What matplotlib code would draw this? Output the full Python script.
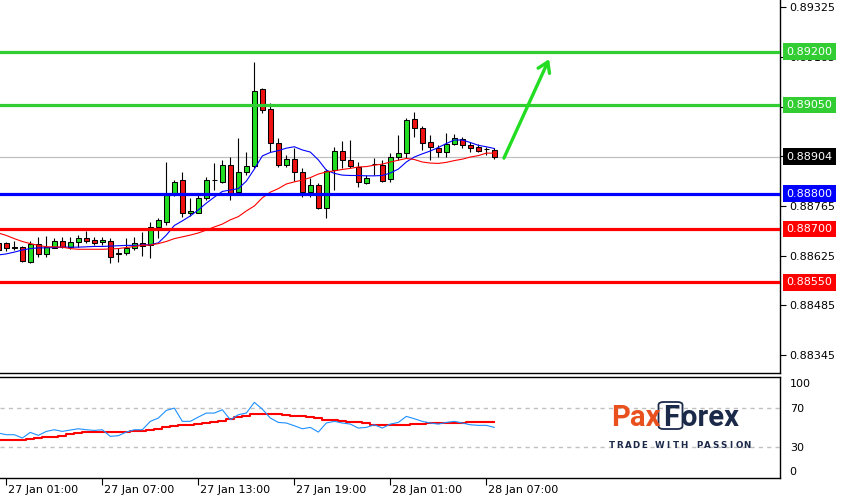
import numpy as np
import pandas as pd
import matplotlib
matplotlib.use('Agg')
import matplotlib.pyplot as plt
import matplotlib.transforms as mtransforms
from matplotlib.patches import FancyBboxPatch

# 30-minute candles, first one is half cut at the left edge
opens = [0.88662, 0.88660, 0.88648, 0.88649, 0.88608, 0.88657, 0.88629, 0.88647, 0.88667, 0.88650,
         0.88664, 0.88674, 0.88668, 0.88663, 0.88667, 0.88631, 0.88632, 0.88646, 0.88660, 0.88655,
         0.88707, 0.88721, 0.88801, 0.88838, 0.88744, 0.88746, 0.88787, 0.88838, 0.88833, 0.88881,
         0.88805, 0.88862, 0.88878, 0.89094, 0.89038, 0.88942, 0.88881, 0.88897, 0.88860, 0.88805,
         0.88824, 0.88759, 0.88866, 0.88921, 0.88894, 0.88876, 0.88829, 0.88882, 0.88881, 0.88841,
         0.88902, 0.88914, 0.89009, 0.88984, 0.88945, 0.88928, 0.88916, 0.88940, 0.88953, 0.88937,
         0.88931, 0.88925, 0.88923]
highs = [0.88669, 0.88664, 0.88667, 0.88652, 0.88667, 0.88678, 0.88680, 0.88674, 0.88678, 0.88678,
         0.88683, 0.88695, 0.88678, 0.88678, 0.88674, 0.88646, 0.88674, 0.88678, 0.88693, 0.88721,
         0.88730, 0.88888, 0.88838, 0.88862, 0.88787, 0.88801, 0.88848, 0.88885, 0.88895, 0.88903,
         0.88956, 0.88917, 0.89172, 0.89098, 0.89056, 0.88956, 0.88909, 0.88929, 0.88871, 0.88845,
         0.88829, 0.88868, 0.88932, 0.88948, 0.88951, 0.88890, 0.88852, 0.88899, 0.88895, 0.88914,
         0.88965, 0.89012, 0.89031, 0.88991, 0.88965, 0.88937, 0.88970, 0.88967, 0.88959, 0.88946,
         0.88939, 0.88932, 0.88929]
lows = [0.88635, 0.88639, 0.88641, 0.88608, 0.88605, 0.88622, 0.88622, 0.88646, 0.88646, 0.88643,
        0.88650, 0.88660, 0.88655, 0.88655, 0.88605, 0.88608, 0.88627, 0.88641, 0.88625, 0.88618,
        0.88674, 0.88711, 0.88793, 0.88735, 0.88737, 0.88744, 0.88782, 0.88810, 0.88829, 0.88782,
        0.88796, 0.88852, 0.88871, 0.89026, 0.88918, 0.88876, 0.88874, 0.88835, 0.88791, 0.88791,
        0.88757, 0.88730, 0.88810, 0.88871, 0.88871, 0.88819, 0.88827, 0.88852, 0.88833, 0.88832,
        0.88895, 0.88899, 0.88960, 0.88923, 0.88895, 0.88904, 0.88902, 0.88937, 0.88929, 0.88918,
        0.88918, 0.88909, 0.88897]
closes = [0.88641, 0.88647, 0.88649, 0.88611, 0.88657, 0.88629, 0.88650, 0.88667, 0.88649, 0.88663,
          0.88674, 0.88667, 0.88662, 0.88668, 0.88620, 0.88632, 0.88647, 0.88660, 0.88652, 0.88707,
          0.88726, 0.88796, 0.88833, 0.88744, 0.88751, 0.88787, 0.88838, 0.88839, 0.88881, 0.88801,
          0.88860, 0.88878, 0.89089, 0.89036, 0.88942, 0.88881, 0.88897, 0.88860, 0.88805, 0.88824,
          0.88759, 0.88864, 0.88921, 0.88895, 0.88878, 0.88832, 0.88843, 0.88883, 0.88835, 0.88902,
          0.88914, 0.89007, 0.88984, 0.88942, 0.88930, 0.88916, 0.88940, 0.88956, 0.88937, 0.88929,
          0.88921, 0.88926, 0.88904]

# moving averages on the price chart
ma_fast = [0.88627, 0.88630, 0.88635, 0.88641, 0.88645, 0.88647, 0.88647, 0.88648, 0.88649, 0.88649,
           0.88649, 0.88650, 0.88651, 0.88651, 0.88652, 0.88653, 0.88654, 0.88654, 0.88655, 0.88656,
           0.88661, 0.88683, 0.88710, 0.88723, 0.88737, 0.88754, 0.88773, 0.88790, 0.88806, 0.88810,
           0.88814, 0.88835, 0.88869, 0.88906, 0.88916, 0.88921, 0.88928, 0.88932, 0.88923, 0.88917,
           0.88895, 0.88866, 0.88857, 0.88852, 0.88851, 0.88851, 0.88850, 0.88850, 0.88851, 0.88858,
           0.88869, 0.88889, 0.88903, 0.88912, 0.88920, 0.88930, 0.88941, 0.88951, 0.88951, 0.88944,
           0.88936, 0.88932, 0.88927]
ma_slow = [0.88689, 0.88682, 0.88673, 0.88665, 0.88659, 0.88654, 0.88650, 0.88650, 0.88649, 0.88645,
           0.88643, 0.88643, 0.88643, 0.88643, 0.88644, 0.88645, 0.88648, 0.88651, 0.88654, 0.88655,
           0.88659, 0.88665, 0.88673, 0.88678, 0.88683, 0.88689, 0.88697, 0.88706, 0.88714, 0.88726,
           0.88735, 0.88751, 0.88765, 0.88788, 0.88804, 0.88814, 0.88827, 0.88833, 0.88838, 0.88845,
           0.88855, 0.88861, 0.88864, 0.88868, 0.88871, 0.88875, 0.88876, 0.88880, 0.88883, 0.88889,
           0.88894, 0.88899, 0.88896, 0.88889, 0.88886, 0.88885, 0.88888, 0.88893, 0.88897, 0.88903,
           0.88907, 0.88914, 0.88914]

# oscillator panel
osc_main = [44.7, 43.0, 43.0, 39.6, 45.4, 42.3, 46.4, 48.1, 46.4, 47.8, 49.1, 48.1, 47.4, 48.1, 41.3,
            42.0, 45.7, 48.1, 48.1, 56.7, 60.1, 67.9, 70.3, 56.7, 56.7, 61.1, 65.2, 65.2, 68.6, 58.4,
            63.5, 65.2, 76.2, 69.3, 60.1, 55.6, 55.0, 52.2, 49.1, 50.5, 45.7, 55.0, 56.7, 55.0, 53.9,
            49.8, 50.5, 53.2, 49.8, 53.9, 55.6, 61.8, 59.4, 56.7, 55.0, 53.9, 55.6, 56.7, 55.0, 53.2,
            52.6, 52.6, 50.5]
osc_signal = [37.2, 37.5, 37.9, 37.2, 38.5, 39.2, 40.3, 40.6, 41.3, 43.3, 44.7, 45.4, 45.4, 45.4, 45.4,
              45.7, 46.1, 46.4, 46.8, 47.4, 48.8, 50.5, 51.5, 52.6, 52.6, 53.6, 54.6, 56.0, 57.3, 59.4,
              60.8, 62.1, 63.8, 63.8, 63.8, 63.8, 63.2, 62.1, 61.8, 61.1, 59.7, 58.4, 57.7, 57.0, 56.3,
              55.6, 54.6, 53.2, 52.6, 52.6, 52.6, 52.9, 53.6, 54.3, 54.6, 54.6, 54.6, 55.0, 55.3, 55.6,
              55.6, 55.6, 55.6]
osc_ticks = [0, 30, 70, 100]
osc_levels = [30, 70]

levels = [0.89200, 0.89050, 0.88800, 0.88700, 0.88550]
level_colors = ['#32cd32', '#32cd32', '#0000ff', '#ff0000', '#ff0000']
last_price = 0.88904
price_ticks = [0.88345, 0.88485, 0.88625, 0.88765, 0.88905, 0.89045, 0.89185, 0.89325]
arrow_from = (62.2, 0.88900)
arrow_to = (67.85, 0.89179)

times = pd.date_range('2020-01-27 00:30', periods=len(closes), freq='30min')
idx = np.arange(len(closes)) - 1   # candle 0 = 27 Jan 01:00

W, H = 841, 497
fig = plt.figure(figsize=(W / 100, H / 100), dpi=100)
ax = fig.add_axes([0, (H - 373) / H, 780 / W, 373 / H])
ax2 = fig.add_axes([0, (H - 478) / H, 780 / W, 101 / H])

xlim = (-0.79, 96.71)

# --- price panel ---
o = np.array(opens); c = np.array(closes)
bull = c >= o
body_col = np.where(bull, '#22dd22', '#ee1111')
ax.axhline(last_price, color='#c0c0c0', lw=0.9, zorder=1)
ax.vlines(idx, lows, highs, color='black', lw=0.8, zorder=2)
ax.bar(idx, np.abs(c - o), bottom=np.minimum(o, c), width=0.68, color=body_col,
       edgecolor='black', linewidth=0.75, zorder=3)
ax.plot(idx, ma_fast, color='#0000ff', lw=0.8, zorder=4)
ax.plot(idx, ma_slow, color='#ff0000', lw=0.8, zorder=4)

trans = mtransforms.blended_transform_factory(ax.transAxes, ax.transData)
box_style = dict(boxstyle='square,pad=0.3', ec='none')
for lvl, col in zip(levels, level_colors):
    ax.axhline(lvl, color=col, lw=2.3, zorder=5)
    ax.text(1.0085, lvl, f'{lvl:.5f}', transform=trans, color='white', fontsize=8,
            ha='left', va='center', zorder=6, bbox=dict(fc=col, **box_style))
ax.text(1.0085, last_price, f'{last_price:.5f}', transform=trans, color='white', fontsize=8,
        ha='left', va='center', zorder=6, bbox=dict(fc='black', **box_style))

ax.annotate('', xy=arrow_to, xytext=arrow_from,
            arrowprops=dict(arrowstyle='->,head_length=0.7,head_width=0.45',
                            color='#22dd22', lw=2.4, shrinkA=0, shrinkB=0), zorder=6)

ax.set_xlim(*xlim)
ax.set_ylim(0.882943, 0.893456)
ax.yaxis.tick_right()
ax.set_yticks(price_ticks)
# labels sitting fully under the price boxes are not visible in the terminal
hidden = [0.88905, 0.89045]
ax.set_yticklabels(['' if t in hidden else f'{t:.5f}' for t in price_ticks])
ax.set_xticks([])
ax.tick_params(axis='y', length=4, width=0.8, labelsize=8, pad=3)
for s in ['left', 'top']:
    ax.spines[s].set_visible(False)
for s in ['right', 'bottom']:
    ax.spines[s].set_linewidth(1.0)

# --- oscillator panel ---
for lv in osc_levels:
    ax2.axhline(lv, color='#c0c0c0', lw=1, ls=(0, (3, 3)), zorder=1)
ax2.plot(idx, osc_signal, color='#ff0000', lw=1.5, drawstyle='steps-mid', zorder=2)
ax2.plot(idx, osc_main, color='#1e90ff', lw=0.8, zorder=3)
ax2.set_xlim(*xlim)
ax2.set_ylim(-1.4, 102.2)
ax2.yaxis.tick_right()
ax2.set_yticks(osc_ticks)
ax2.set_yticklabels([str(t) for t in osc_ticks])
ax2.tick_params(axis='y', length=0, labelsize=8, pad=7)
ylabs = ax2.get_yticklabels()
ylabs[0].set_va('bottom')
ylabs[-1].set_va('top')

tick_mask = (times.minute == 0) & (times.hour % 6 == 1)
ax2.set_xticks(idx[tick_mask])
ax2.set_xticklabels(times[tick_mask].strftime('%d %b %H:%M'))
ax2.tick_params(axis='x', length=5, width=0.8, labelsize=8, pad=0)
shift = mtransforms.ScaledTranslation(2 / 100, 0, fig.dpi_scale_trans)
for lbl in ax2.get_xticklabels():
    lbl.set_ha('left')
    lbl.set_transform(lbl.get_transform() + shift)
ax2.spines['left'].set_visible(False)
for s in ['right', 'bottom', 'top']:
    ax2.spines[s].set_linewidth(1.0)

# --- logo ---
navy = '#1c2a4a'
r = fig.canvas.get_renderer()
base_y = 1 - 426 / H
t1 = fig.text(611 / W, base_y, 'Pax', fontsize=21, family='Roboto', weight='bold',
              color='#e8501e', ha='left', va='baseline')
e1 = t1.get_window_extent(r)
t2 = fig.text((e1.x1 + 3) / W, base_y, 'F', fontsize=21, family='Roboto', weight='bold',
              color=navy, ha='left', va='baseline')
e2 = t2.get_window_extent(r)
t3 = fig.text((e2.x1 + 2) / W, base_y, 'orex', fontsize=21, family='Roboto', weight='bold',
              color=navy, ha='left', va='baseline')
box = FancyBboxPatch(((e2.x0 - 5) / W, 1 - 429 / H), (e2.x1 - e2.x0 + 8) / W, 27 / H,
                     boxstyle='round,pad=0,rounding_size=0.006', transform=fig.transFigure,
                     fill=False, ec=navy, lw=1.3)
fig.patches.append(box)

slogan = 'TRADE WITH PASSION'
step = (747 - 612) / (len(slogan) - 1)
for i, ch in enumerate(slogan):
    fig.text((612 + i * step) / W, 1 - 446 / H, ch, fontsize=6.3, weight='bold', color=navy,
             ha='center', va='center')

fig.savefig('out.png', dpi=100, facecolor='white')
